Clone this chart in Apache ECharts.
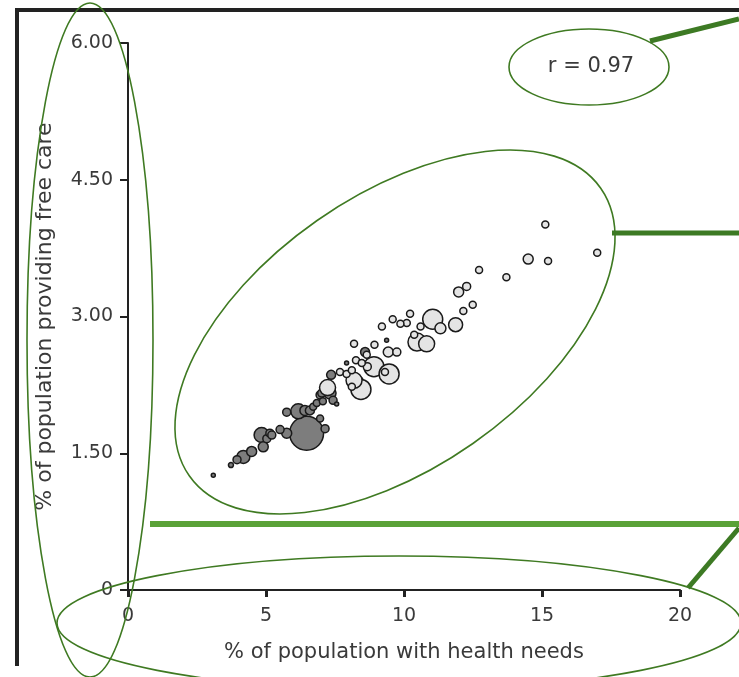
<!DOCTYPE html>
<html>
<head>
<meta charset="utf-8">
<script src="https://cdn.jsdelivr.net/npm/echarts@6/dist/echarts.min.js"></script>
<style>html,body{margin:0;padding:0;background:#fff}#c{width:739px;height:677px}</style>
</head>
<body>
<div id="c"></div>
<script>
// x: % with health needs, y: % providing free care, size: bubble diameter (px)
var darkPoints = [
  [3.09,1.26,4],[3.73,1.37,5],[3.95,1.43,8],[4.18,1.46,13],[4.48,1.52,10],
  [4.84,1.70,15],[4.90,1.57,10],[5.03,1.66,8],[5.14,1.72,8],[5.21,1.70,8],[5.51,1.76,8],
  [5.75,1.72,10],[5.75,1.95,8],[6.17,1.96,15],[6.47,1.72,34],[6.59,1.97,9],[6.41,1.97,10],
  [6.71,2.01,7],[6.84,2.05,7],[6.96,1.88,7],[7.14,1.77,8],[7.06,2.07,7],
  [6.96,2.14,8],[7.43,2.08,8],
  [7.02,2.16,8],[7.32,2.16,12],[7.56,2.04,4],[7.36,2.36,9],[8.59,2.61,9],
  [7.92,2.49,4],[9.37,2.74,4],[8.40,2.30,6]
];
var lightPoints = [
  [15.12,4.01,7],[14.50,3.63,10],[15.22,3.61,7],[17.00,3.70,7],[13.71,3.43,7],
  [12.72,3.51,7],[12.27,3.33,8],[11.98,3.27,10],[12.49,3.13,7],[12.15,3.06,7],
  [11.04,2.97,20],[11.87,2.91,14],[11.32,2.87,11],[10.60,2.89,7],[10.37,2.80,7],
  [10.47,2.72,18],[10.82,2.70,16],[10.22,3.03,7],[10.10,2.93,7],[9.87,2.92,7],
  [9.59,2.97,7],[9.20,2.89,7],[8.19,2.70,7],[8.93,2.69,7],[9.43,2.61,10],
  [9.74,2.61,8],[8.26,2.52,7],[8.91,2.45,20],[9.46,2.37,20],[9.31,2.39,7],
  [8.67,2.45,8],[8.47,2.49,7],[8.19,2.30,16],[8.44,2.20,20],[7.68,2.39,7],
  [7.92,2.37,7],[8.11,2.23,7],[7.23,2.22,16],[8.11,2.41,7],[8.65,2.58,7]
];
var xTicks = [0,5,10,15,20];
var yTicks = [0,1.5,3,4.5,6];
var xTitle = '% of population with health needs';
var yTitle = '% of population providing free care';
var rText = 'r = 0.97';

var chart = echarts.init(document.getElementById('c'), null, {renderer:'canvas'});
var font = 'DejaVu Sans, sans-serif';
var green = '#3f7a22';
function byDesc(a,b){return b[2]-a[2];}
chart.setOption({
  animation:false,
  grid:{left:128,right:59,top:43,bottom:87},
  xAxis:{
    type:'value',min:xTicks[0],max:xTicks[xTicks.length-1],interval:5,
    axisLine:{show:true,onZero:false,lineStyle:{color:'#222',width:2}},
    axisTick:{show:true,length:7,lineStyle:{color:'#222',width:3}},
    axisLabel:{color:'#3a3a3a',fontSize:19,fontFamily:font,margin:17},
    splitLine:{show:false},
    name:xTitle,nameLocation:'middle',nameGap:52,
    nameTextStyle:{color:'#3a3a3a',fontSize:21,fontFamily:font}
  },
  yAxis:{
    type:'value',min:yTicks[0],max:yTicks[yTicks.length-1],interval:1.5,
    axisLine:{show:true,onZero:false,lineStyle:{color:'#222',width:2}},
    axisTick:{show:true,length:8,lineStyle:{color:'#222',width:2}},
    axisLabel:{color:'#3a3a3a',fontSize:19,fontFamily:font,margin:15,
      formatter:function(v){return v===0?'0':v.toFixed(2);}},
    splitLine:{show:false},
    name:yTitle,nameLocation:'middle',nameGap:72,
    nameTextStyle:{color:'#3a3a3a',fontSize:22,fontFamily:font}
  },
  series:[
    {type:'scatter',data:darkPoints.slice().sort(byDesc),symbolSize:function(d){return d[2];},
     itemStyle:{color:'#7d7d7d',borderColor:'#1a1a1a',borderWidth:1.5,opacity:1},z:3},
    {type:'scatter',data:lightPoints.slice().sort(byDesc),symbolSize:function(d){return d[2];},
     itemStyle:{color:'#e4e4e4',borderColor:'#1a1a1a',borderWidth:1.5,opacity:1},z:3}
  ],
  graphic:[
    {type:'line',shape:{x1:17,y1:8,x2:17,y2:666},style:{stroke:'#222',lineWidth:4},z:10},
    {type:'line',shape:{x1:15,y1:10,x2:739,y2:10},style:{stroke:'#222',lineWidth:4},z:10},
    {type:'text',x:591,y:67,style:{text:rText,fill:'#3a3a3a',font:'21px '+font,textAlign:'center',textVerticalAlign:'middle'},z:10},
    {type:'ellipse',shape:{cx:589,cy:67,rx:80,ry:38},style:{fill:'none',stroke:green,lineWidth:1.6},z:10},
    {type:'ellipse',shape:{cx:90,cy:340,rx:63,ry:337},style:{fill:'none',stroke:green,lineWidth:1.6},z:10},
    {type:'ellipse',shape:{cx:399,cy:623,rx:342,ry:67},style:{fill:'none',stroke:green,lineWidth:1.6},z:10},
    {type:'ellipse',x:395,y:332,rotation:0.61,shape:{cx:0,cy:0,rx:251,ry:136},style:{fill:'none',stroke:green,lineWidth:1.6},z:10},
    {type:'line',shape:{x1:650,y1:41,x2:739,y2:19},style:{stroke:'#3d7a24',lineWidth:5},z:10},
    {type:'line',shape:{x1:612,y1:233,x2:739,y2:233},style:{stroke:'#3d7a24',lineWidth:5},z:10},
    {type:'line',shape:{x1:150,y1:524,x2:739,y2:524},style:{stroke:'#5aa238',lineWidth:6},z:10},
    {type:'line',shape:{x1:688,y1:588,x2:739,y2:528},style:{stroke:'#3d7a24',lineWidth:5},z:10}
  ]
});
</script>
</body>
</html>
